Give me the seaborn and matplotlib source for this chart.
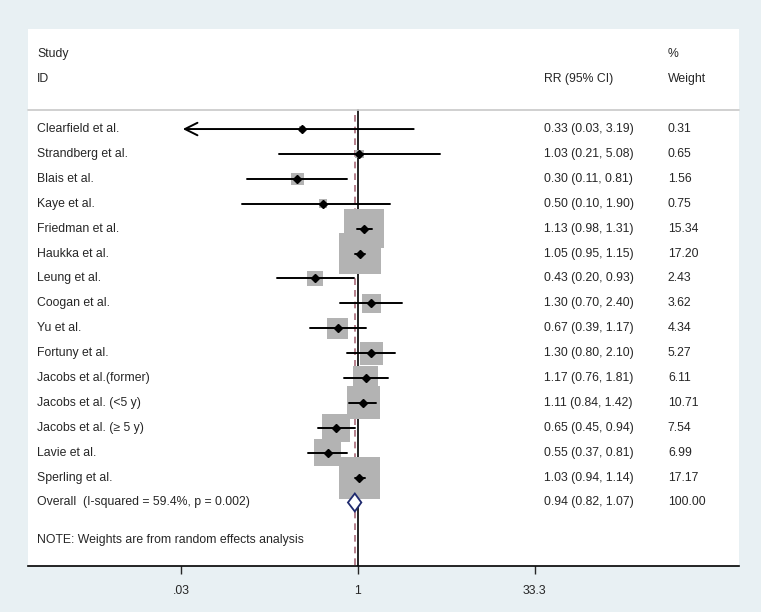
import numpy as np
import pandas as pd
import seaborn as sns
import matplotlib.pyplot as plt
from matplotlib.transforms import blended_transform_factory

studies = ["Clearfield et al.", "Strandberg et al.", "Blais et al.", "Kaye et al.",
           "Friedman et al.", "Haukka et al.", "Leung et al.", "Coogan et al.",
           "Yu et al.", "Fortuny et al.", "Jacobs et al.(former)", "Jacobs et al. (<5 y)",
           "Jacobs et al. (\u2265 5 y)", "Lavie et al.", "Sperling et al."]
rr = [0.33, 1.03, 0.30, 0.50, 1.13, 1.05, 0.43, 1.30, 0.67, 1.30, 1.17, 1.11, 0.65, 0.55, 1.03]
lo = [0.03, 0.21, 0.11, 0.10, 0.98, 0.95, 0.20, 0.70, 0.39, 0.80, 0.76, 0.84, 0.45, 0.37, 0.94]
hi = [3.19, 5.08, 0.81, 1.90, 1.31, 1.15, 0.93, 2.40, 1.17, 2.10, 1.81, 1.42, 0.94, 0.81, 1.14]
weight = [0.31, 0.65, 1.56, 0.75, 15.34, 17.20, 2.43, 3.62, 4.34, 5.27, 6.11, 10.71, 7.54, 6.99, 17.17]

overall_label = "Overall  (I-squared = 59.4%, p = 0.002)"
overall_rr, overall_lo, overall_hi, overall_w = 0.94, 0.82, 1.07, 100.00
tick_vals = [0.03, 1, 33.3]
tick_labels = [".03", "1", "33.3"]

df = pd.DataFrame({"study": studies, "rr": rr, "lo": lo, "hi": hi, "weight": weight})
df["row"] = np.arange(len(df))
n = len(df)

sns.set_style("white")
plt.rcParams["font.family"] = ["Liberation Sans", "DejaVu Sans"]

bg = "#e8f0f3"
fig = plt.figure(figsize=(7.61, 6.12), dpi=100, facecolor=bg)
ax = fig.add_axes([0.0368, 0.0752, 0.9343, 0.8775])
ax.set_facecolor("white")
ax.set_xscale("log")
ax.set_xlim(10 ** -2.84, 10 ** 3.28)
ax.set_ylim(17.55, -4.02)

# gray weight boxes, area proportional to weight
sns.scatterplot(data=df, x="rr", y="row", size="weight", sizes=(52.9 * min(weight), 52.9 * max(weight)),
                size_norm=(min(weight), max(weight)), marker="s", color="#b3b3b3",
                edgecolor="none", legend=False, ax=ax, zorder=2)

# reference lines
sep_y = -0.76
ax.plot([1, 1], [sep_y, 17.55], color="black", lw=1.2, zorder=1)
ax.plot([overall_rr, overall_rr], [sep_y + 0.2, 17.55], color="#a86a78", lw=1.2,
        ls=(0, (4, 3)), zorder=1.5)

# confidence intervals
xmin_ci = tick_vals[0]
for _, r in df.iterrows():
    if r["lo"] <= xmin_ci:
        ax.annotate("", xy=(xmin_ci * 0.98, r["row"]), xytext=(r["hi"], r["row"]),
                    arrowprops=dict(arrowstyle="->,head_length=0.9,head_width=0.45",
                                    lw=1.4, color="black"), zorder=3)
    else:
        ax.plot([r["lo"], r["hi"]], [r["row"], r["row"]], color="black", lw=1.4, zorder=3)
ax.plot(df["rr"], df["row"], "D", color="black", markersize=4, ls="none", zorder=4)

# overall diamond
yo = n
ax.fill([overall_lo, overall_rr, overall_hi, overall_rr],
        [yo, yo - 0.36, yo, yo + 0.36], facecolor="white", edgecolor="#1f2a6e", lw=1.3, zorder=5)

# text columns
tr = blended_transform_factory(ax.transAxes, ax.transData)
fs = 8.8
x_name, x_rr, x_w = 0.0127, 0.7257, 0.900
ax.text(x_name, -3, "Study", transform=tr, fontsize=fs, va="center")
ax.text(x_name, -2, "ID", transform=tr, fontsize=fs, va="center")
ax.text(x_rr, -2, "RR (95% CI)", transform=tr, fontsize=fs, va="center")
ax.text(x_w, -3, "%", transform=tr, fontsize=fs, va="center")
ax.text(x_w, -2, "Weight", transform=tr, fontsize=fs, va="center")
ax.plot([0, 1], [sep_y, sep_y], transform=tr, color="#c8c8c8", lw=1.2, clip_on=False)

for _, r in df.iterrows():
    ax.text(x_name, r["row"], r["study"], transform=tr, fontsize=fs, va="center")
    ax.text(x_rr, r["row"], f"{r['rr']:.2f} ({r['lo']:.2f}, {r['hi']:.2f})",
            transform=tr, fontsize=fs, va="center")
    ax.text(x_w, r["row"], f"{r['weight']:.2f}", transform=tr, fontsize=fs, va="center")

ax.text(x_name, yo, overall_label, transform=tr, fontsize=fs, va="center")
ax.text(x_rr, yo, f"{overall_rr:.2f} ({overall_lo:.2f}, {overall_hi:.2f})",
        transform=tr, fontsize=fs, va="center")
ax.text(x_w, yo, f"{overall_w:.2f}", transform=tr, fontsize=fs, va="center")
ax.text(x_name, 16.5, "NOTE: Weights are from random effects analysis", transform=tr,
        fontsize=fs, va="center")

# axis
for s in ["top", "left", "right"]:
    ax.spines[s].set_visible(False)
ax.spines["bottom"].set_color("black")
ax.spines["bottom"].set_linewidth(1.2)
ax.set_yticks([])
ax.set_xticks(tick_vals)
ax.set_xticklabels(tick_labels, fontsize=fs)
ax.minorticks_off()
ax.tick_params(axis="x", direction="out", length=6, width=1, bottom=True, pad=8)
ax.set_xlabel("")
ax.set_ylabel("")

fig.savefig("out.png", dpi=100, facecolor=bg)
